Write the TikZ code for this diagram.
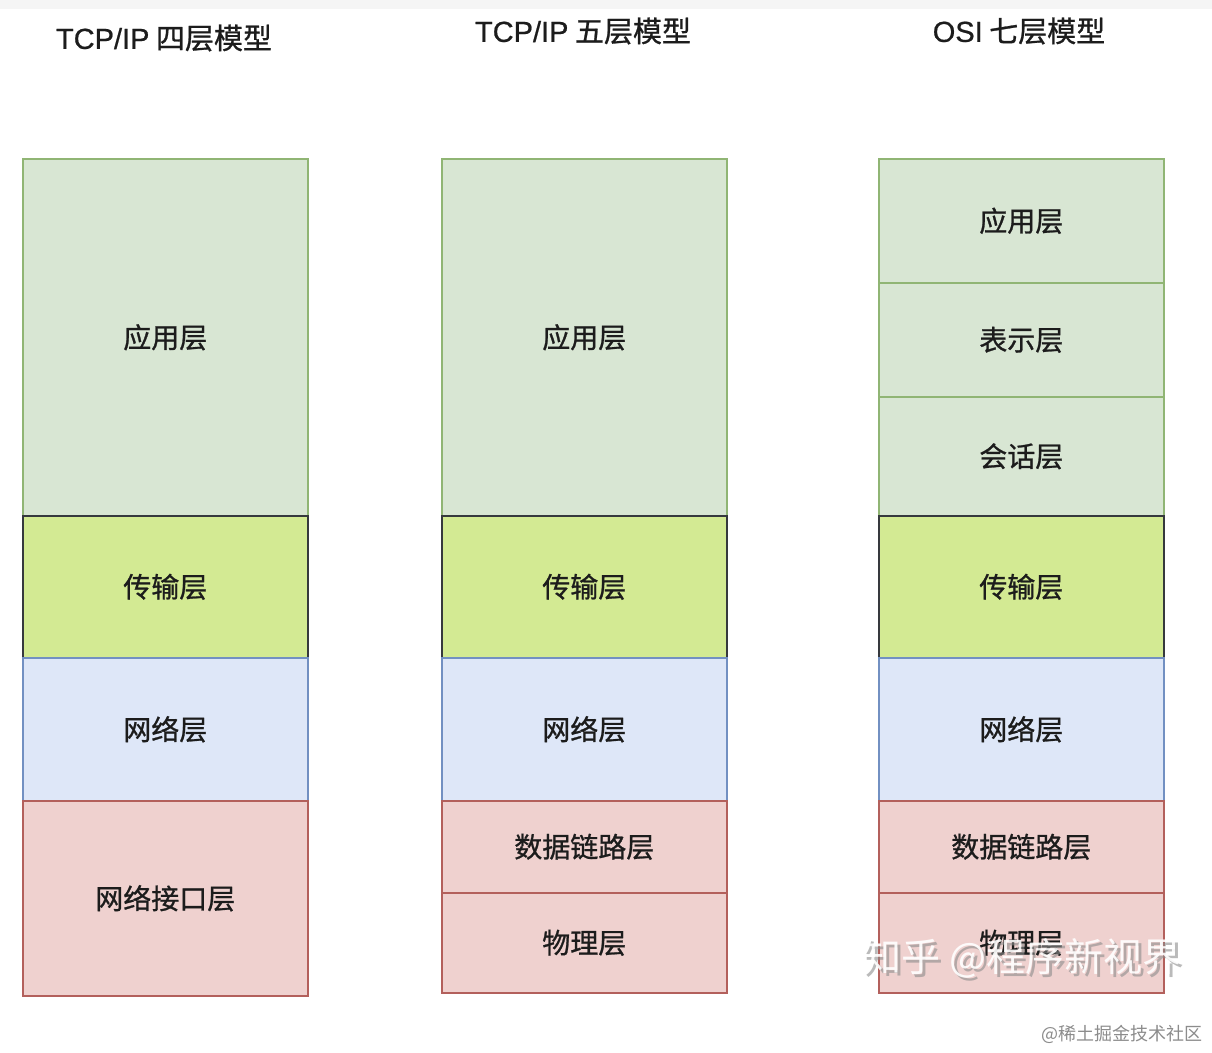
\documentclass[tikz,border=0pt]{standalone}
\usepackage{fontspec}
\setmainfont{Noto Sans CJK SC}[FakeBold=0.9]
\newfontfamily\latinfont{Liberation Sans}[FakeBold=0.6]
\newfontfamily\plainfont{Noto Sans CJK SC}
\usetikzlibrary{positioning}

\definecolor{appfill}{HTML}{D8E6D3}
\definecolor{appline}{HTML}{90B574}
\definecolor{tpfill}{HTML}{D3EA93}
\definecolor{tpline}{HTML}{36393D}
\definecolor{netfill}{HTML}{DEE7F8}
\definecolor{netline}{HTML}{7290C2}
\definecolor{linkfill}{HTML}{EFD1CF}
\definecolor{linkline}{HTML}{B3605C}
\definecolor{inkdark}{HTML}{1C1C1C}

\tikzset{
  layer/.style={draw, line width=1.6pt, anchor=north west, minimum width=285pt,
    inner sep=0pt, font=\fontsize{28}{32}\selectfont, text=inkdark},
  applayer/.style={layer, fill=appfill, draw=appline},
  tplayer/.style={layer, fill=tpfill, draw=tpline},
  netlayer/.style={layer, fill=netfill, draw=netline},
  linklayer/.style={layer, fill=linkfill, draw=linkline},
  title/.style={font=\fontsize{29}{34}\selectfont, text=inkdark},
}

\begin{document}
\begin{tikzpicture}[x=1pt, y=-1pt]
  \useasboundingbox (0,0) rectangle (1212,1052);
  \fill[white] (0,0) rectangle (1212,1052);
  \fill[black!4] (0,0) rectangle (1212,9);

  % --- titles ---
  \node[title] (t4) at (164,38) {{\latinfont TCP/IP} 四层模型};
  \node[title] (t5) at (583,31) {{\latinfont TCP/IP} 五层模型};
  \node[title] (t7) at (1019,31) {{\latinfont OSI} 七层模型};

  % --- TCP/IP four layers ---
  \node[applayer, minimum height=357pt] (a4) at (22,158) {应用层};
  \node[tplayer, minimum height=142pt] (tp4) at (22,515) {传输层};
  \node[netlayer, minimum height=143pt] (n4) at (22,657) {网络层};
  \node[linklayer, minimum height=195pt] (l4) at (22,800) {网络接口层};

  % --- TCP/IP five layers ---
  \node[applayer, minimum height=357pt] (a5) at (441,158) {应用层};
  \node[tplayer, minimum height=142pt] (tp5) at (441,515) {传输层};
  \node[netlayer, minimum height=143pt] (n5) at (441,657) {网络层};
  \node[linklayer, minimum height=92pt] (d5) at (441,800) {数据链路层};
  \node[linklayer, minimum height=100pt] (p5) at (441,892) {物理层};

  % --- OSI seven layers ---
  \node[applayer, minimum height=124pt] (a7) at (878,158) {应用层};
  \node[applayer, minimum height=114pt] (pr7) at (878,282) {表示层};
  \node[applayer, minimum height=119pt] (s7) at (878,396) {会话层};
  \node[tplayer, minimum height=142pt] (tp7) at (878,515) {传输层};
  \node[netlayer, minimum height=143pt] (n7) at (878,657) {网络层};
  \node[linklayer, minimum height=92pt] (d7) at (878,800) {数据链路层};
  \node[linklayer, minimum height=100pt] (p7) at (878,892) {物理层};

  % --- watermarks ---
  \node[font=\plainfont\fontsize{39}{44}\selectfont, text=black!45, opacity=0.6]
    (wmshadow) at (1025,961) {知乎 @程序新视界};
  \node[font=\plainfont\fontsize{39}{44}\selectfont, text=white, opacity=0.9]
    (wm) at (1022,958) {知乎 @程序新视界};
  \node[font=\plainfont\fontsize{18}{20}\selectfont, text=black!45, anchor=east]
    (site) at (1206,1034) {@稀土掘金技术社区};
\end{tikzpicture}
\end{document}
